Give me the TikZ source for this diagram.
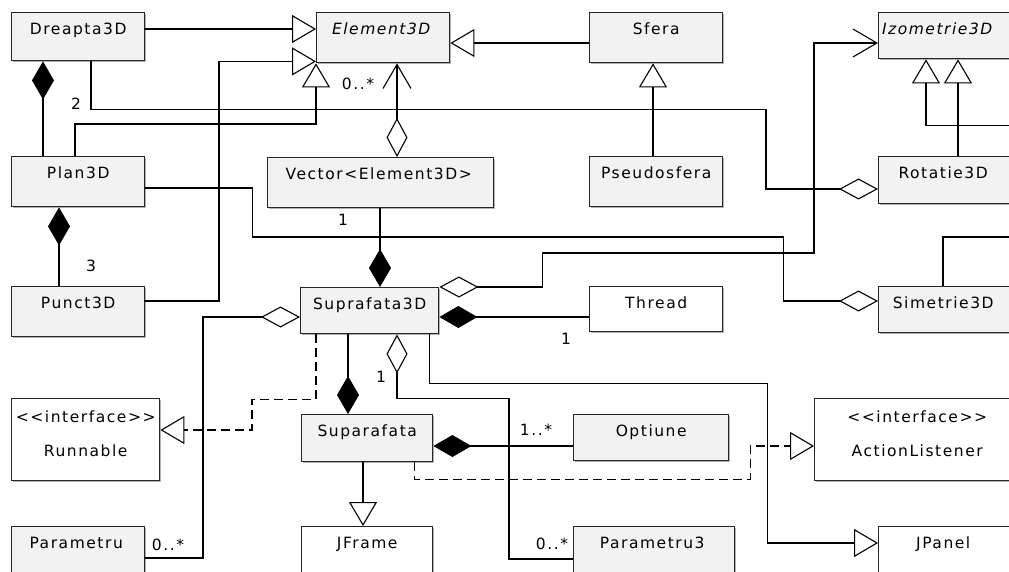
\documentclass[tikz,border=0pt]{standalone}
\usepackage{fontspec}
\setmainfont{DejaVu Sans}[LetterSpace=10, Ligatures=TeXOff]
\usetikzlibrary{arrows.meta,calc,shadows}
\definecolor{clsfill}{RGB}{242,242,242}
\tikzset{
  Gen/.tip={Triangle[open,length=24pt,width=28pt]},
  Agg/.tip={Diamond[open,length=39pt,width=21pt]},
  Comp/.tip={Diamond[length=38pt,width=22pt]},
  Nav/.tip={Straight Barb[length=24pt,width=28pt]},
}
\begin{document}
\begin{tikzpicture}[x=1pt,y=-1pt,
  box/.style={draw=black!85, line width=1.4pt, inner sep=0pt, anchor=north west,
    drop shadow={shadow xshift=1.5pt, shadow yshift=-1.5pt, opacity=0.3, fill=black}},
  cls/.style={box, fill=clsfill},
  ext/.style={box, fill=white},
  txt/.style={font=\fontsize{15.5}{18}\selectfont, inner sep=0pt, anchor=base},
  mult/.style={font=\fontsize{15.5}{18}\selectfont, inner sep=0pt},
  link/.style={line width=1.1pt},
  dashlink/.style={link, dash pattern=on 9pt off 5pt},
]
\useasboundingbox (0,0) rectangle (1009,572);
\clip (0,0) rectangle (1009,572);

% ---------- classes ----------
\node[cls, minimum width=133pt, minimum height=48pt] (dreapta) at (11,12) {};
\node[cls, minimum width=133pt, minimum height=50pt] (plan) at (11,156) {};
\node[cls, minimum width=133pt, minimum height=50pt] (punct) at (11,286) {};
\node[cls, minimum width=133pt, minimum height=50pt] (element) at (316,12) {};
\node[cls, minimum width=133pt, minimum height=50pt] (sfera) at (589,12) {};
\node[cls, minimum width=133pt, minimum height=46pt] (izo) at (878,12) {};
\node[cls, minimum width=226pt, minimum height=50pt] (vector) at (267,157) {};
\node[cls, minimum width=133pt, minimum height=50pt] (pseudo) at (589,156) {};
\node[cls, minimum width=133pt, minimum height=47pt] (rotatie) at (878,156) {};
\node[cls, minimum width=138pt, minimum height=46pt] (supra) at (300,287) {};
\node[ext, minimum width=133pt, minimum height=45pt] (thread) at (589,286) {};
\node[cls, minimum width=133pt, minimum height=46pt] (simetrie) at (878,286) {};
\node[ext, minimum width=148pt, minimum height=82pt] (runnable) at (11,398) {};
\node[cls, minimum width=133pt, minimum height=60pt] (parametru) at (11,526) {};
\node[cls, minimum width=131pt, minimum height=47pt] (supara) at (301,414) {};
\node[cls, minimum width=155pt, minimum height=46pt] (optiune) at (573,414) {};
\node[ext, minimum width=205pt, minimum height=82pt] (action) at (814,398) {};
\node[ext, minimum width=131pt, minimum height=60pt] (jframe) at (301,526) {};
\node[cls, minimum width=161pt, minimum height=60pt] (param3) at (573,526) {};
\node[ext, minimum width=133pt, minimum height=60pt] (jpanel) at (878,526) {};

% ---------- class names ----------
\node[txt] (tdreapta) at ($(dreapta.north)+(0,22.5)$) {Dreapta3D};
\node[txt] (tplan) at ($(plan.north)+(0,22.5)$) {Plan3D};
\node[txt] (tpunct) at ($(punct.north)+(0,22.5)$) {Punct3D};
\node[txt, font=\fontsize{15.5}{18}\selectfont\itshape] (telement) at ($(element.north)+(-2,22.5)$) {Element3D};
\node[txt] (tsfera) at ($(sfera.north)+(0,22.5)$) {Sfera};
\node[txt, font=\fontsize{15.5}{18}\selectfont\itshape] (tizo) at ($(izo.north)+(-8,22.5)$) {Izometrie3D};
\node[txt] (tvector) at ($(vector.north)+(-2,22.5)$) {Vector<Element3D>};
\node[txt] (tpseudo) at ($(pseudo.north)+(0,22.5)$) {Pseudosfera};
\node[txt] (trotatie) at ($(rotatie.north)+(-2,22.5)$) {Rotatie3D};
\node[txt] (tsupra) at ($(supra.north)+(0,22.5)$) {Suprafata3D};
\node[txt] (tthread) at ($(thread.north)+(0,22.5)$) {Thread};
\node[txt] (tsimetrie) at ($(simetrie.north)+(-2,22.5)$) {Simetrie3D};
\node[txt] (trunnable1) at ($(runnable.north)+(0,24.5)$) {<<interface>>};
\node[txt] (trunnable2) at ($(runnable.north)+(0,58.5)$) {Runnable};
\node[txt] (tparametru) at ($(parametru.north)+(-2,22.5)$) {Parametru};
\node[txt] (tsupara) at ($(supara.north)+(0,22.5)$) {Suparafata};
\node[txt] (toptiune) at ($(optiune.north)+(0,22.5)$) {Optiune};
\node[txt] (taction1) at ($(action.north)+(0,24.5)$) {<<interface>>};
\node[txt] (taction2) at ($(action.north)+(0,58.5)$) {ActionListener};
\node[txt] (tjframe) at ($(jframe.north)+(0,22.5)$) {JFrame};
\node[txt] (tparam3) at ($(param3.north)+(-2,22.5)$) {Parametru3};
\node[txt] (tjpanel) at ($(jpanel.north)+(-2,22.5)$) {JPanel};

% ---------- generalizations ----------
\draw[link, -Gen] ($(dreapta.north east)+(0,17)$) -- ($(element.north west)+(0,17)$);
\draw[link, -Gen] ($(punct.north east)+(0,15)$) -| ($(element.south west)+(-97,-2)$)
  -- ($(element.south west)+(0,-2)$);
\draw[link, -Gen] ($(plan.north west)+(64,0)$) -- ++(0,-32) -| (element.south west);
\draw[link, -Gen] ($(sfera.north west)+(0,31)$) -- ($(element.north east)+(0,31)$);
\draw[link, -Gen] ($(pseudo.north west)+(64,0)$) -- ($(sfera.south west)+(64,0)$);
\draw[link, -Gen] ($(rotatie.north west)+(80,0)$) -- ($(izo.south west)+(80,0)$);
\draw[link, -Gen] ($(simetrie.north west)+(65,0)$) -- ++(0,-49)
  -| ($(izo.south west)+(152,66)$) -| ($(izo.south west)+(48,0)$);
\draw[link, -Gen] ($(supra.south east)+(-10,0)$) -- ++(0,49) -- ++(338,0)
  |- ($(jpanel.north west)+(0,17)$);
\draw[link, -Gen] ($(supara.south west)+(62,0)$) -- ($(jframe.north west)+(62,0)$);

% ---------- realizations ----------
\draw[dashlink, -Gen] ($(supra.south west)+(16,0)$) -- ++(0,65) -- ++(-64,0)
  |- ($(runnable.north east)+(0,32)$);
\draw[dashlink, -Gen] ($(supara.south east)+(-19,0)$) -- ++(0,17) -- ++(336,0)
  |- ($(action.north west)+(0,48)$);

% ---------- compositions ----------
\draw[link, Comp-] ($(dreapta.south west)+(32,0)$) -- ($(plan.north west)+(32,0)$);
\draw[link, Comp-] ($(plan.south west)+(48,0)$) -- ($(punct.north west)+(48,0)$);
\draw[link, -Comp] ($(vector.south west)+(113,0)$) -- ($(supra.north west)+(80,0)$);
\draw[link, Comp-] ($(supra.north east)+(0,30)$) -- ($(thread.north west)+(0,31)$);
\draw[link, -Comp] ($(supra.south west)+(48,0)$) -- ($(supara.north west)+(47,0)$);
\draw[link, Comp-] ($(supara.north east)+(0,32)$) -- ($(optiune.north west)+(0,32)$);

% ---------- aggregations ----------
\draw[link, -Agg] ($(dreapta.south west)+(80,0)$) -- ++(0,48) -- ++(675,0)
  |- ($(rotatie.north west)+(0,33)$);
\draw[link, -Agg] ($(plan.north east)+(0,32)$) -- ++(107,0) -- ++(0,49) -- ++(531,0)
  |- ($(simetrie.north west)+(0,15)$);
\draw[link, Agg-Nav] ($(vector.north west)+(130,0)$) -- ($(element.south west)+(81,0)$);
\draw[link, Agg-Nav] (supra.north east) -- ++(103,0) -- ++(0,-34)
  -| ($(izo.north west)+(-64,31)$) -- ($(izo.north west)+(0,31)$);
\draw[link, Agg-] ($(supra.north west)+(0,30)$) -- ++(-97,0)
  |- ($(parametru.north east)+(0,32)$);
\draw[link, Agg-] ($(supra.south west)+(97,0)$) -- ++(0,64) -- ++(112,0)
  |- ($(param3.north west)+(0,33)$);

% ---------- multiplicities ----------
\node[mult] (m1) at (76,104) {2};
\node[mult] (m2) at (91,266) {3};
\node[mult] (m3) at (358,84) {0..*};
\node[mult] (m4) at (343,220) {1};
\node[mult] (m5) at (566,339) {1};
\node[mult] (m6) at (168,545) {0..*};
\node[mult] (m7) at (381,377) {1};
\node[mult] (m8) at (552,544) {0..*};
\node[mult] (m9) at (536,430) {1..*};
\end{tikzpicture}
\end{document}
